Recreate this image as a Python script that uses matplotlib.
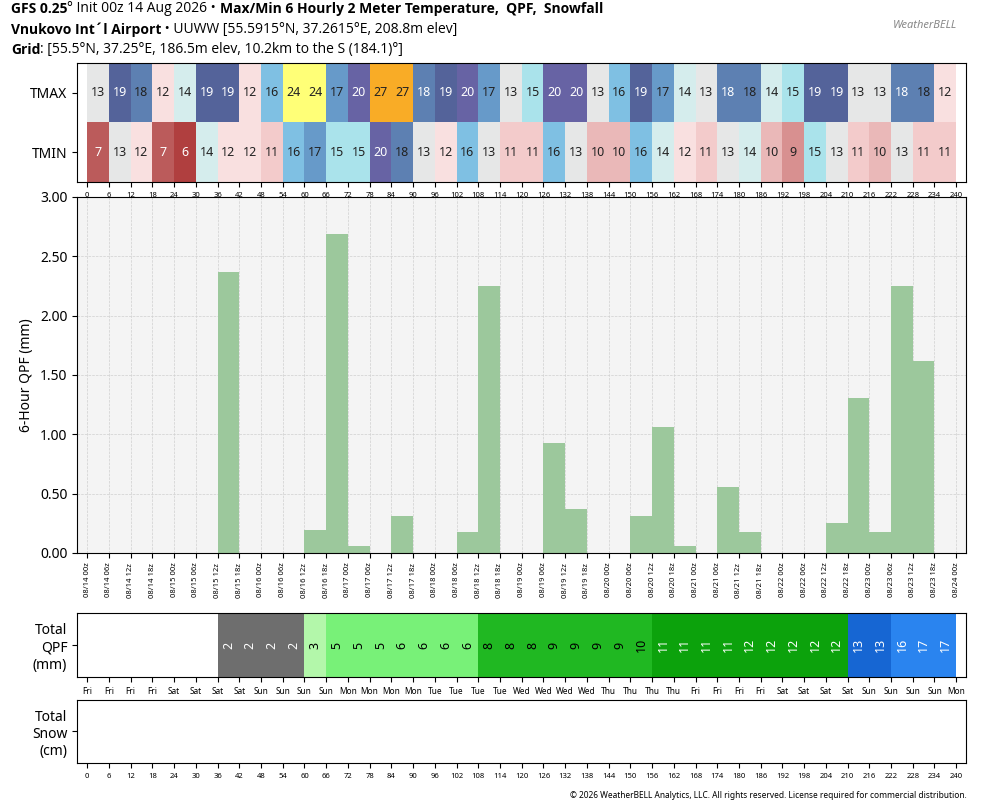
import datetime as dt
import numpy as np
import matplotlib
matplotlib.use("Agg")
import matplotlib.pyplot as plt

plt.rcParams['font.family'] = ['Noto Sans', 'DejaVu Sans']

hours = np.arange(0, 240, 6)
init = dt.datetime(2026, 8, 14, 0)

tmax = [13, 19, 18, 12, 14, 19, 19, 12, 16, 24, 24, 17, 20, 27, 27, 18, 19, 20, 17, 13,
        15, 20, 20, 13, 16, 19, 17, 14, 13, 18, 18, 14, 15, 19, 19, 13, 13, 18, 18, 12]
tmin = [7, 13, 12, 7, 6, 14, 12, 12, 11, 16, 17, 15, 15, 20, 18, 13, 12, 16, 13, 11,
        11, 16, 13, 10, 10, 16, 14, 12, 11, 13, 14, 10, 9, 15, 13, 11, 10, 13, 11, 11]

qpf = np.zeros(40)
qpf_vals = {6: 2.37, 10: 0.19, 11: 2.69, 12: 0.06, 14: 0.31, 17: 0.18, 18: 2.25,
            21: 0.93, 22: 0.37, 25: 0.31, 26: 1.06, 27: 0.06, 29: 0.56, 30: 0.18,
            34: 0.25, 35: 1.31, 36: 0.18, 37: 2.25, 38: 1.62}
for k, v in qpf_vals.items():
    qpf[k] = v
total = np.cumsum(qpf)

temp_colors = {6: '#ac3434', 7: '#b85252', 9: '#d68a8a', 10: '#e9b4b4', 11: '#f3c9c9',
               12: '#f9dfdf', 13: '#e5e6e6', 14: '#d3ecec', 15: '#a6e2ea', 16: '#78bde2',
               17: '#5f95c6', 18: '#5479ae', 19: '#4b5b95', 20: '#5f5b9f', 24: '#ffff70',
               27: '#f9a81a'}
temp_white = {6, 7, 19, 20}


def qpf_color(v):
    if v < 1:
        return None, 'k'
    if v < 2.5:
        return '#6e6e6e', 'white'
    if v < 4:
        return '#b3f7aa', 'k'
    if v < 7:
        return '#78f178', 'k'
    if v < 10.5:
        return '#20b822', 'k'
    if v < 12.5:
        return '#0ca20c', 'white'
    if v < 15:
        return '#1666d3', 'white'
    return '#2a84ef', 'white'


fig = plt.figure(figsize=(9.84, 8.08), dpi=100)
left, width = 0.0783, 0.9034
xlim = (-2.8, 242.7)

# temperature strip
ax_t = fig.add_axes([left, 0.7748, width, 0.1473])
for i, h in enumerate(hours):
    for row, vals in ((1, tmax), (0, tmin)):
        v = vals[i]
        ax_t.bar(h, 1, width=6, bottom=row, align='edge', color=temp_colors[v], alpha=0.95, lw=0)
        ax_t.text(h + 3, row + 0.5, str(v), ha='center', va='center', fontsize=9,
                  color='white' if (v in temp_white or (row == 1 and v == 18 and i in (15, 29, 37))) else '#222222')
ax_t.set_xlim(xlim)
ax_t.set_ylim(0, 2)
ax_t.set_yticks([0.5, 1.5], ['TMIN', 'TMAX'], fontsize=10)
ax_t.set_xticks(np.arange(0, 241, 6))
ax_t.set_xticklabels([str(h) for h in range(0, 241, 6)], fontsize=5.5)

# QPF bars
ax = fig.add_axes([left, 0.3156, width, 0.4406])
ax.set_facecolor('#f4f4f4')
ax.bar(hours, qpf, width=6, align='edge', color='#9cc89c', lw=0)
ax.set_xlim(xlim)
ax.set_ylim(0, 3)
ax.set_yticks(np.arange(0, 3.01, 0.5))
ax.set_yticklabels(['%.2f' % y for y in np.arange(0, 3.01, 0.5)], fontsize=10)
ax.set_ylabel('6-Hour QPF (mm)', fontsize=10)
ax.set_xticks(np.arange(0, 241, 6))
ax.set_xticklabels([(init + dt.timedelta(hours=int(h))).strftime('%m/%d %Hz')
                    for h in range(0, 241, 6)], rotation=90, fontsize=5.5)
ax.grid(True, ls='--', lw=0.5, color='#d0d0d0')
ax.set_axisbelow(True)

# total QPF strip
ax_q = fig.add_axes([left, 0.1621, width, 0.0792])
for i, h in enumerate(hours):
    v = int(np.round(total[i]))
    c, tc = qpf_color(total[i])
    if c is None:
        continue
    ax_q.bar(h, 1, width=6, align='edge', color=c, lw=0)
    ax_q.text(h + 3, 0.5, str(v), ha='center', va='center', rotation=90, fontsize=9, color=tc)
ax_q.set_xlim(xlim)
ax_q.set_ylim(0, 1)
ax_q.set_yticks([0.5], ['Total\nQPF\n(mm)'], fontsize=10)
ax_q.set_xticks(np.arange(0, 241, 6))
ax_q.set_xticklabels([(init + dt.timedelta(hours=int(h))).strftime('%a')
                      for h in range(0, 241, 6)], fontsize=6)

# snow strip (empty)
ax_s = fig.add_axes([left, 0.0557, width, 0.078])
ax_s.set_xlim(xlim)
ax_s.set_ylim(0, 1)
ax_s.set_yticks([0.5], ['Total\nSnow\n(cm)'], fontsize=10)
ax_s.set_xticks(np.arange(0, 241, 6))
ax_s.set_xticklabels([str(h) for h in range(0, 241, 6)], fontsize=5.5)

# header text built from pieces, bold/normal alternating
hdr_font = ['Open Sans', 'DejaVu Sans']


def chain(y, parts):
    prev = fig.text(0.011, y, parts[0][0], fontsize=10, family=hdr_font,
                    fontweight=parts[0][1], va='baseline')
    for s, w in parts[1:]:
        prev = ax.annotate(s, xy=(1, 0), xycoords=prev, fontsize=10, family=hdr_font,
                           fontweight=w, va='bottom', annotation_clip=False)


chain(0.9835, [('GFS 0.25', 'bold'), ('° Init 00z 14 Aug 2026 • ', 'normal'),
               ('Max/Min 6 Hourly 2 Meter Temperature,  QPF,  Snowfall', 'bold')])
chain(0.9585, [('Vnukovo Int´l Airport', 'bold'),
               (' • UUWW [55.5915°N, 37.2615°E, 208.8m elev]', 'normal')])
chain(0.9335, [('Grid', 'bold'), (': [55.5°N, 37.25°E, 186.5m elev, 10.2km to the S (184.1)°]', 'normal')])

fig.text(0.94, 0.968, 'WeatherBELL', fontsize=8, color='#888888', ha='center',
         va='center', style='italic')
fig.text(0.982, 0.012, '© 2026 WeatherBELL Analytics, LLC. All rights reserved. '
         'License required for commercial distribution.', fontsize=6, ha='right')

fig.savefig('out.png', dpi=100)
